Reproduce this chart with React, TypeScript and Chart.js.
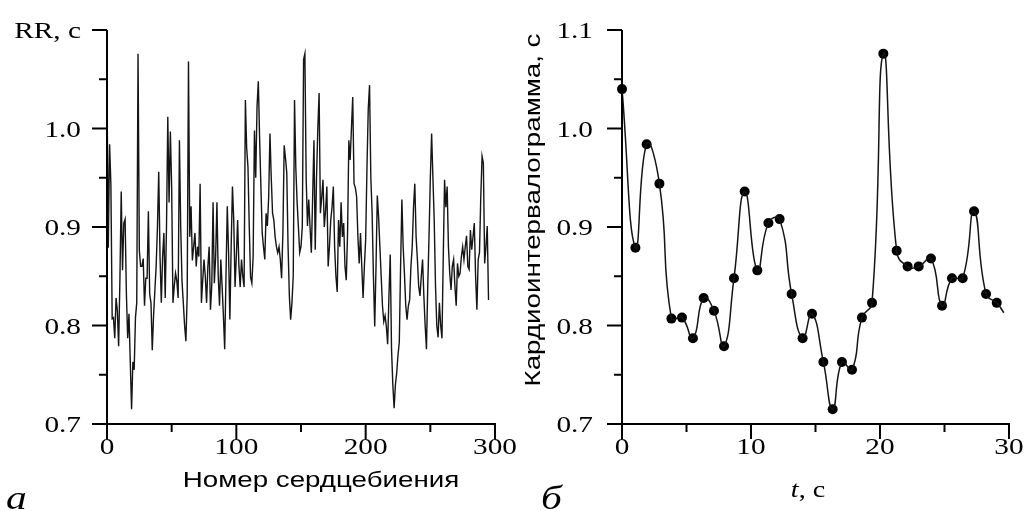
import React, { useEffect, useRef } from "react";
import { Chart, registerables } from "chart.js";

Chart.register(...registerables);

// ---------- Panel а: RR series by beat number ----------
const rrValues: number[] = [
  1.040, 0.879, 0.984, 0.944, 0.807, 0.808, 0.787, 0.828, 0.815, 0.779,
  0.848, 0.936, 0.856, 0.904, 0.908, 0.832, 0.787, 0.812, 0.763, 0.715,
  0.763, 0.755, 0.808, 0.823, 1.076, 0.876, 0.860, 0.860, 0.868, 0.820,
  0.848, 0.848, 0.916, 0.832, 0.823, 0.775, 0.810, 0.835, 0.860, 0.900,
  0.956, 0.870, 0.823, 0.870, 0.894, 0.828, 0.900, 1.012, 0.925, 0.997,
  0.940, 0.823, 0.840, 0.853, 0.845, 0.828, 0.988, 0.900, 0.845, 0.823,
  0.800, 0.784, 0.830, 1.068, 0.890, 0.921, 0.866, 0.880, 0.894, 0.860,
  0.880, 0.870, 0.944, 0.823, 0.846, 0.867, 0.850, 0.823, 0.860, 0.880,
  0.816, 0.840, 0.925, 0.843, 0.870, 0.925, 0.850, 0.820, 0.867, 0.840,
  0.810, 0.776, 0.850, 0.921, 0.874, 0.806, 0.880, 0.941, 0.907, 0.839,
  0.870, 0.907, 0.860, 0.839, 0.867, 0.850, 0.839, 1.029, 0.980, 0.961,
  0.900, 0.849, 0.843, 0.870, 0.998, 0.950, 1.022, 1.048, 0.990, 0.941,
  0.894, 0.880, 0.867, 0.914, 0.901, 0.930, 0.995, 0.950, 0.914, 0.907,
  0.890, 0.880, 0.874, 0.880, 0.867, 0.848, 0.894, 0.983, 0.970, 0.955,
  0.880, 0.830, 0.806, 0.823, 0.850, 1.029, 0.960, 0.925, 0.900, 0.874,
  0.880, 0.900, 1.070, 1.076, 0.950, 0.901, 0.928, 0.900, 0.874, 0.930,
  0.988, 0.877, 0.950, 1.000, 1.036, 0.914, 0.930, 0.948, 0.900, 0.917,
  0.941, 0.860, 0.880, 0.907, 0.920, 0.941, 0.880, 0.850, 0.834, 0.907,
  0.880, 0.925, 0.890, 0.904, 0.860, 0.846, 0.894, 0.988, 0.968, 1.000,
  1.032, 0.944, 0.940, 0.931, 0.890, 0.863, 0.894, 0.860, 0.828, 0.860,
  0.887, 0.960, 1.020, 1.044, 0.950, 0.914, 0.850, 0.799, 0.860, 0.932,
  0.910, 0.880, 0.850, 0.820, 0.804, 0.810, 0.799, 0.781, 0.830, 0.872,
  0.776, 0.740, 0.716, 0.740, 0.752, 0.770, 0.783, 0.860, 0.928, 0.880,
  0.852, 0.820, 0.806, 0.820, 0.826, 0.860, 0.880, 0.920, 0.944, 0.890,
  0.867, 0.840, 0.830, 0.850, 0.867, 0.830, 0.800, 0.776, 0.840, 0.891,
  0.950, 0.995, 0.950, 0.907, 0.840, 0.800, 0.788, 0.823, 0.800, 0.787,
  0.870, 0.948, 0.920, 0.941, 0.880, 0.853, 0.836, 0.860, 0.867, 0.840,
  0.820, 0.863, 0.850, 0.853, 0.870, 0.880, 0.867, 0.880, 0.891, 0.860,
  0.857, 0.897, 0.877, 0.890, 0.904, 0.850, 0.816, 0.867, 0.874, 0.930,
  0.972, 0.965, 0.863, 0.880, 0.901, 0.826,
];
const beatNumbers: number[] = rrValues.map((_, i) => i);

const leftXMajor = [0, 100, 200, 300];
const leftXLabels = ["0", "100", "200", "300"];
const leftXMinor = [50, 150, 250];
const leftYMajor = [0.7, 0.8, 0.9, 1.0, 1.1];
const leftYLabels = ["0.7", "0.8", "0.9", "1.0", "RR, c"];
const yMinor = [0.75, 0.85, 0.95, 1.05];

// ---------- Panel б: cardiointervalogram vs time ----------
const timeSec: number[] = [
  0.0, 1.04, 1.91, 2.90, 3.83, 4.65, 5.50, 6.33, 7.13, 7.91,
  8.68, 9.51, 10.49, 11.35, 12.22, 13.15, 14.00, 14.73, 15.61, 16.33,
  17.05, 17.83, 18.60, 19.38, 20.26, 21.29, 22.14, 23.00, 23.95, 24.81,
  25.58, 26.41, 27.29, 28.22, 29.05,
];
const intervalSec: number[] = [
  1.040, 0.879, 0.984, 0.944, 0.807, 0.808, 0.787, 0.828, 0.815, 0.779,
  0.848, 0.936, 0.856, 0.904, 0.908, 0.832, 0.787, 0.812, 0.763, 0.715,
  0.763, 0.755, 0.808, 0.823, 1.076, 0.876, 0.860, 0.860, 0.868, 0.820,
  0.848, 0.848, 0.916, 0.832, 0.823,
];
// the curve runs a little past the last beat
const curveEndTime = 29.6;
const curveEndValue = 0.813;

const rightXMajor = [0, 10, 20, 30];
const rightXLabels = ["0", "10", "20", "30"];
const rightXMinor = [5, 15, 25];
const rightYMajor = [0.7, 0.8, 0.9, 1.0, 1.1];
const rightYLabels = ["0.7", "0.8", "0.9", "1.0", "1.1"];

const SERIF = '"Liberation Serif", "Times New Roman", serif';
const SANS = '"Liberation Sans", Arial, sans-serif';
const SERIF_SX = 1.22;
const SANS_SX = 1.26;

type Align = "left" | "center" | "right";

function drawText(
  ctx: CanvasRenderingContext2D,
  text: string,
  x: number,
  y: number,
  font: string,
  sx: number,
  align: Align,
  rotate = 0
) {
  ctx.save();
  ctx.translate(x, y);
  if (rotate) ctx.rotate(rotate);
  ctx.scale(sx, 1);
  ctx.font = font;
  ctx.textAlign = align;
  ctx.textBaseline = "alphabetic";
  ctx.fillStyle = "#000";
  ctx.fillText(text, 0, 0);
  ctx.restore();
}

interface AxesCfg {
  xMajor: number[];
  xLabels: string[];
  xMinor: number[];
  yMajor: number[];
  yLabels: string[];
  yMinor: number[];
  yLabelRight: number;
  xLabelBaseline: number;
  extra: (ctx: CanvasRenderingContext2D, area: any) => void;
}

function axesPlugin(cfg: AxesCfg) {
  return {
    id: "axesFrame",
    afterDraw(chart: any) {
      const ctx: CanvasRenderingContext2D = chart.ctx;
      const area = chart.chartArea;
      const xs = chart.scales.x;
      const ys = chart.scales.y;
      const MAJ = 15;
      const MIN = 8;
      ctx.save();
      ctx.strokeStyle = "#000";
      ctx.lineWidth = 2;
      ctx.lineCap = "butt";
      ctx.beginPath();
      ctx.moveTo(area.left, area.top);
      ctx.lineTo(area.left, area.bottom);
      ctx.moveTo(area.left - 1, area.bottom);
      ctx.lineTo(area.right + 1, area.bottom);
      cfg.yMajor.forEach((v) => {
        const p = ys.getPixelForValue(v);
        ctx.moveTo(area.left - MAJ, p);
        ctx.lineTo(area.left, p);
      });
      cfg.yMinor.forEach((v) => {
        const p = ys.getPixelForValue(v);
        ctx.moveTo(area.left - MIN, p);
        ctx.lineTo(area.left, p);
      });
      cfg.xMajor.forEach((v) => {
        const p = xs.getPixelForValue(v);
        ctx.moveTo(p, area.bottom);
        ctx.lineTo(p, area.bottom + MAJ);
      });
      cfg.xMinor.forEach((v) => {
        const p = xs.getPixelForValue(v);
        ctx.moveTo(p, area.bottom);
        ctx.lineTo(p, area.bottom + MIN);
      });
      ctx.stroke();
      ctx.restore();

      const tickFont = `24px ${SERIF}`;
      cfg.yMajor.forEach((v, i) => {
        const p = ys.getPixelForValue(v);
        drawText(ctx, cfg.yLabels[i], cfg.yLabelRight, p + 8, tickFont, SERIF_SX, "right");
      });
      cfg.xMajor.forEach((v, i) => {
        const p = xs.getPixelForValue(v);
        drawText(ctx, cfg.xLabels[i], p, cfg.xLabelBaseline, tickFont, SERIF_SX, "center");
      });
      cfg.extra(ctx, area);
    },
  };
}

const baseOptions = (padding: any, xMax: number) => ({
  responsive: false,
  maintainAspectRatio: false,
  animation: false as const,
  devicePixelRatio: 1,
  events: [] as any[],
  layout: { padding },
  plugins: { legend: { display: false }, tooltip: { enabled: false } },
  scales: {
    x: { type: "linear" as const, min: 0, max: xMax, display: false },
    y: { type: "linear" as const, min: 0.7, max: 1.1, display: false },
  },
});

export default function App() {
  const leftRef = useRef<HTMLCanvasElement>(null);
  const rightRef = useRef<HTMLCanvasElement>(null);

  useEffect(() => {
    const left = new Chart(leftRef.current!, {
      type: "line",
      data: {
        datasets: [
          {
            data: rrValues.map((v, i) => ({ x: beatNumbers[i], y: v })),
            borderColor: "#151515",
            borderWidth: 1.4,
            pointRadius: 0,
            tension: 0,
            clip: false as any,
          },
        ],
      },
      options: baseOptions({ left: 107, right: 45, top: 30, bottom: 87 }, 300) as any,
      plugins: [
        axesPlugin({
          xMajor: leftXMajor,
          xLabels: leftXLabels,
          xMinor: leftXMinor,
          yMajor: leftYMajor,
          yLabels: leftYLabels,
          yMinor,
          yLabelRight: 81,
          xLabelBaseline: 454,
          extra: (ctx) => {
            drawText(ctx, "Номер сердцебиения", 321, 487, `22px ${SANS}`, SANS_SX, "center");
            drawText(ctx, "а", 6, 509, `italic 34px ${SERIF}`, SERIF_SX, "left");
          },
        }) as any,
      ],
    });

    const curvePoints = timeSec.map((t, i) => ({ x: t, y: intervalSec[i] }));
    curvePoints.push({ x: curveEndTime, y: curveEndValue });

    const right = new Chart(rightRef.current!, {
      type: "line",
      data: {
        datasets: [
          {
            data: curvePoints,
            borderColor: "#151515",
            borderWidth: 1.5,
            pointRadius: 0,
            tension: 0.5,
            clip: false as any,
          },
          {
            data: timeSec.map((t, i) => ({ x: t, y: intervalSec[i] })),
            showLine: false,
            pointRadius: 5,
            pointBackgroundColor: "#000",
            pointBorderColor: "#000",
            pointBorderWidth: 0,
            clip: false as any,
          },
        ],
      },
      options: baseOptions({ left: 110, right: 15, top: 30, bottom: 87 }, 30) as any,
      plugins: [
        axesPlugin({
          xMajor: rightXMajor,
          xLabels: rightXLabels,
          xMinor: rightXMinor,
          yMajor: rightYMajor,
          yLabels: rightYLabels,
          yMinor,
          yLabelRight: 81,
          xLabelBaseline: 454,
          extra: (ctx) => {
            drawText(ctx, "Кардиоинтервалограмма, с", 28, 210, `22px ${SANS}`, SANS_SX, "center", -Math.PI / 2);
            const fItal = `italic 23px ${SERIF}`;
            const fReg = `23px ${SERIF}`;
            ctx.save();
            ctx.font = fItal;
            const wT = ctx.measureText("t").width;
            ctx.font = fReg;
            const wR = ctx.measureText(", с").width;
            ctx.restore();
            const total = (wT + wR) * SERIF_SX;
            const startX = 296 - total / 2;
            drawText(ctx, "t", startX, 497, fItal, SERIF_SX, "left");
            drawText(ctx, ", с", startX + wT * SERIF_SX, 497, fReg, SERIF_SX, "left");
            drawText(ctx, "б", 29, 509, `italic 34px ${SERIF}`, SERIF_SX, "left");
          },
        }) as any,
      ],
    });

    return () => {
      left.destroy();
      right.destroy();
    };
  }, []);

  return (
    <div style={{ position: "fixed", left: 0, top: 0, width: 1024, height: 511, background: "#fff" }}>
      <canvas ref={leftRef} width={540} height={511} style={{ position: "absolute", left: 0, top: 0, width: 540, height: 511 }} />
      <canvas ref={rightRef} width={512} height={511} style={{ position: "absolute", left: 512, top: 0, width: 512, height: 511 }} />
    </div>
  );
}
